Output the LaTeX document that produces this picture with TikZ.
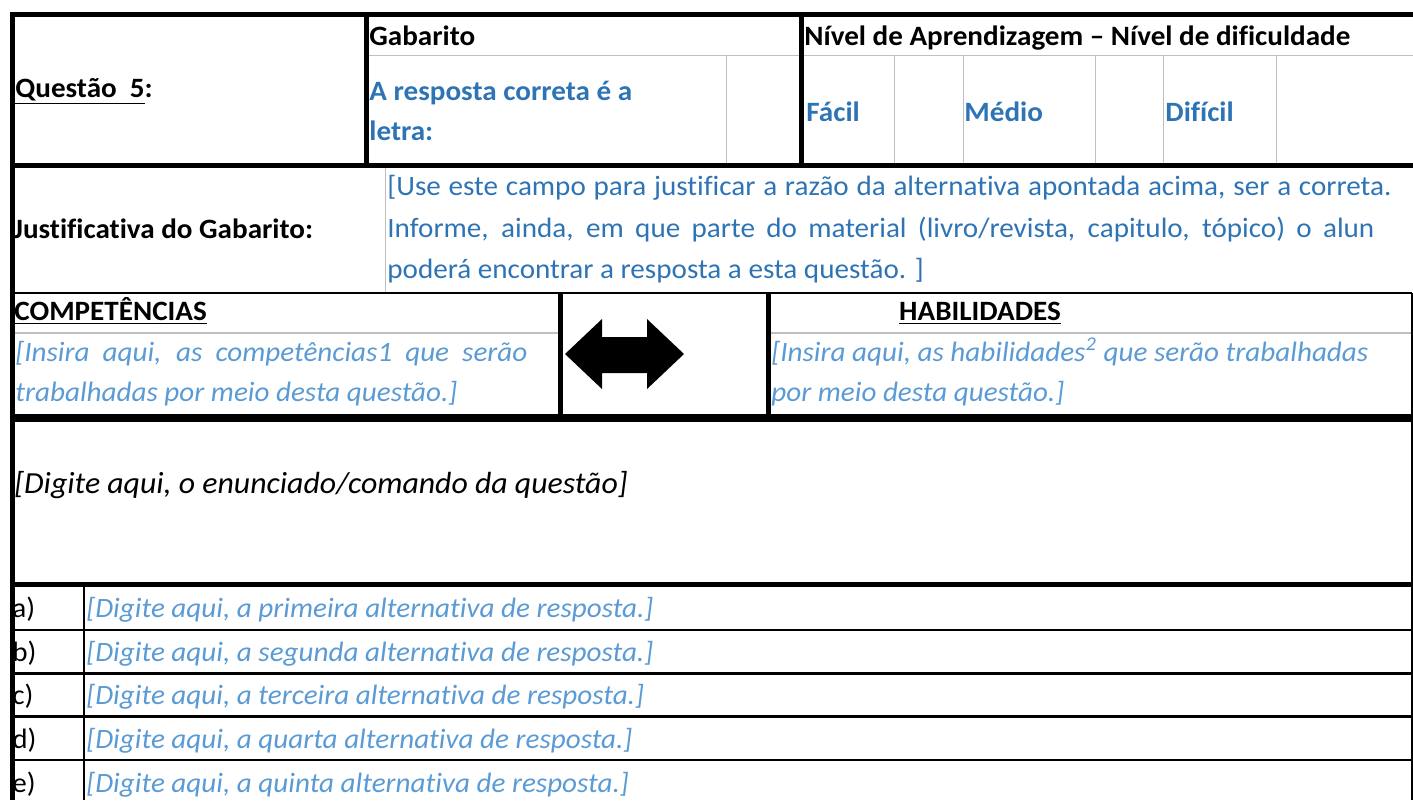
\documentclass[tikz,border=0pt]{standalone}
\usepackage{fontspec}
\setmainfont{Carlito}[Ligatures=NoCommon, FakeStretch=1.04]
\definecolor{azul}{HTML}{2E74B5}
\definecolor{azulclaro}{HTML}{5B9BD5}
\definecolor{grade}{HTML}{BFBFBF}
\begin{document}
\begin{tikzpicture}[x=0.5pt, y=-0.5pt,
    grossa/.style={line width=2.5pt},
    media/.style={line width=1.1pt},
    cinza/.style={line width=0.5pt, draw=grade},
    txt/.style={anchor=base west, inner sep=0pt, font=\fontsize{14}{17}\selectfont},
    negrito/.style={txt, font=\fontsize{14}{17}\selectfont\bfseries},
    resp/.style={negrito, text=azul},
    corpo/.style={txt, text=azul},
    campo/.style={txt, text=azulclaro, font=\fontsize{14}{17}\selectfont\itshape}]
      \useasboundingbox (0,0) rectangle (1413,800);
      \draw[cinza] (366,55) -- (1413,55)
                   (726,55) -- (726,165)
                   (894,55) -- (894,165)
                   (963,55) -- (963,165)
                   (1095,55) -- (1095,165)
                   (1163,55) -- (1163,165)
                   (1276,55) -- (1276,165)
                   (385,165) -- (385,293);
      \draw[cinza, line width=1.3pt] (12,333) -- (560,333)
                                     (768,333) -- (1412,333);
      \draw[grossa] (10,14.5) -- (1413,14.5)
                    (12.5,12) -- (12.5,800)
                    (366,14.5) -- (366,165.5)
                    (801,14.5) -- (801,165.5)
                    (12,165.5) -- (1413,165.5)
                    (560,293) -- (560,417)
                    (768.5,293) -- (768.5,417)
                    (12,584.5) -- (1413,584.5);
      \draw[line width=4pt] (12,418) -- (1413,418);
      \draw[media] (12,293) -- (1412,293)
                   (12,630) -- (1413,630)
                   (12,673.5) -- (1413,673.5)
                   (12,716.5) -- (1413,716.5)
                   (12,760) -- (1413,760)
                   (84,584.5) -- (84,800);
      \draw[line width=0.8pt] (1412,293) -- (1412,800);
      \fill[black] (565,354) -- (602,319) -- (602,337) -- (647,337) -- (647,319)
                   -- (684,354) -- (647,389) -- (647,373) -- (602,373) -- (602,389) -- cycle;
      \node[negrito] (questao) at (15,97) {\underline{Questão\ \ 5}:};
      \node[negrito] (gabarito) at (369,45) {Gabarito};
      \node[resp] (resposta) at (369,100) {A resposta correta é a};
      \node[resp] (letra) at (369,140) {letra:};
      \node[negrito] (nivel) at (804,45) {Nível de Aprendizagem – Nível de dificuldade};
      \node[resp] (facil) at (806,121) {Fácil};
      \node[resp] (medio) at (964,121) {Médio};
      \node[resp] (dificil) at (1165,121) {Difícil};
      \node[negrito] (justif) at (13,238) {Justificativa do Gabarito:};
      \node[corpo] (justifa) at (387,195) {\makebox[502pt][s]{[Use este campo para justificar a razão da alternativa apontada acima, ser a correta.}};
      \node[corpo] (justifb) at (387,237) {\makebox[493.5pt][s]{Informe, ainda, em que parte do material (livro/revista, capitulo, tópico) o alun}};
      \node[corpo] (justifc) at (387,278) {poderá encontrar a resposta a esta questão. ]};
      \node[negrito] (comp) at (14,320) {\underline{COMPETÊNCIAS}};
      \node[campo] (compa) at (15,361) {\makebox[256pt][s]{[Insira aqui, as competências1 que serão}};
      \node[campo] (compb) at (15,401) {trabalhadas por meio desta questão.]};
      \node[negrito, anchor=base] (hab) at (980,320) {\underline{HABILIDADES}};
      \node[campo] (haba) at (771,361) {[Insira aqui, as habilidades\textsuperscript{2} que serão trabalhadas};
      \node[campo] (habb) at (771,401) {por meio desta questão.]};
      \node[txt, font=\fontsize{15.3}{18}\selectfont\itshape] (enunciado) at (14,493) {[Digite aqui, o enunciado/comando da questão]};
      \node[txt] (la) at (12,617) {a)};
      \node[txt] (lb) at (12,661) {b)};
      \node[txt] (lc) at (12,704) {c)};
      \node[txt] (ld) at (12,748) {d)};
      \node[txt] (le) at (12,792) {e)};
      \node[campo] (alta) at (86,617) {[Digite aqui, a primeira alternativa de resposta.]};
      \node[campo] (altb) at (86,661) {[Digite aqui, a segunda alternativa de resposta.]};
      \node[campo] (altc) at (86,704) {[Digite aqui, a terceira alternativa de resposta.]};
      \node[campo] (altd) at (86,748) {[Digite aqui, a quarta alternativa de resposta.]};
      \node[campo] (alte) at (86,792) {[Digite aqui, a quinta alternativa de resposta.]};
\end{tikzpicture}
\end{document}
